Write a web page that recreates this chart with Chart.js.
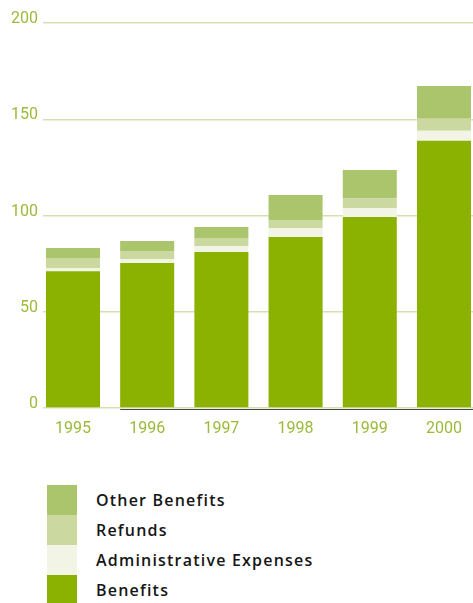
<!DOCTYPE html>
<html>
<head>
<meta charset="utf-8">
<script src="https://cdn.jsdelivr.net/npm/chart.js@4.4.1/dist/chart.umd.min.js"></script>
<style>
  html, body { margin: 0; padding: 0; background: #ffffff; overflow: hidden; }
  #wrap { position: relative; width: 473px; height: 603px; }
  #box { position: absolute; left: 0; top: 0; width: 473px; height: 445px; }
  #legend { position: absolute; left: 47px; top: 485px; margin: 0; padding: 0; list-style: none; }
  #legend li { display: flex; align-items: center; height: 30px; margin: 0; padding: 0; }
  #legend .sw { width: 30px; height: 30px; flex: none; }
  #legend .tx { margin-left: 19px; font-family: "Open Sans", sans-serif; font-weight: 600; font-size: 16px; letter-spacing: 1.2px; color: #161616; }
</style>
</head>
<body>
<div id="wrap">
  <div id="box"><canvas id="c"></canvas></div>
  <ul id="legend"></ul>
</div>
<script>
const years = [1995, 1996, 1997, 1998, 1999, 2000];
const benefits = [71.1, 75.3, 81.0, 88.8, 99.2, 138.8];
const adminExpenses = [1.6, 2.1, 3.1, 4.7, 4.6, 5.2];
const refunds = [5.2, 4.1, 4.2, 4.1, 5.2, 6.2];
const otherBenefits = [5.2, 5.2, 5.7, 13.0, 14.6, 17.1];
const yTicks = [0, 50, 100, 150, 200];

const seriesNames = ["Benefits", "Administrative Expenses", "Refunds", "Other Benefits"];
const seriesColors = ["#8bb200", "#f2f4e6", "#cbd8a0", "#abc56c"];
const seriesValues = [benefits, adminExpenses, refunds, otherBenefits];

const datasets = seriesValues.map((vals, i) => ({
  label: seriesNames[i],
  data: years.map((yr, j) => ({ x: yr, y: vals[j] })),
  backgroundColor: seriesColors[i],
  borderWidth: 0,
  categoryPercentage: 1,
  barPercentage: 0.728
}));

const tickColor = "#9cba3a";
const gridColor = "#d5e0b1";

const baseline = {
  id: "baseline",
  afterDatasetsDraw(chart) {
    const meta = chart.getDatasetMeta(0);
    const bar = meta.data[1];
    if (!bar) return;
    const ctx = chart.ctx;
    const y0 = chart.scales.y.getPixelForValue(0);
    const x0 = bar.x - bar.width / 2;
    ctx.save();
    ctx.strokeStyle = "#45453a";
    ctx.lineWidth = 1.2;
    ctx.beginPath();
    ctx.moveTo(x0, y0 + 1.5);
    ctx.lineTo(chart.chartArea.right, y0 + 1.5);
    ctx.stroke();
    ctx.restore();
  }
};

new Chart(document.getElementById("c"), {
  type: "bar",
  data: { datasets },
  plugins: [baseline],
  options: {
    responsive: true,
    maintainAspectRatio: false,
    animation: false,
    layout: { padding: { top: 23, right: 0, left: 0, bottom: 0 } },
    plugins: { legend: { display: false }, tooltip: { enabled: false } },
    scales: {
      x: {
        type: "linear",
        stacked: true,
        offset: false,
        min: 1994.596,
        max: 2000.391,
        grid: { display: false, drawTicks: false, offset: false },
        border: { display: false },
        afterFit(s) { s.height = 37; },
        afterBuildTicks(s) { s.ticks = years.map(v => ({ value: v })); },
        ticks: {
          stepSize: 1,
          includeBounds: false,
          padding: 11,
          color: tickColor,
          font: { family: "Roboto", size: 16 },
          maxRotation: 0,
          callback: v => String(v)
        }
      },
      y: {
        stacked: true,
        min: 0,
        max: 200,
        grid: { color: gridColor, lineWidth: 1.5, drawTicks: false },
        border: { display: false },
        afterFit(s) { s.width = 43; },
        afterBuildTicks(s) { s.ticks = yTicks.map(v => ({ value: v })); },
        ticks: {
          padding: 5,
          labelOffset: -4,
          color: tickColor,
          font: { family: "Roboto", size: 16 },
          callback: v => String(v)
        }
      }
    }
  }
});

const legend = document.getElementById("legend");
datasets.slice().reverse().forEach(ds => {
  const li = document.createElement("li");
  const sw = document.createElement("span");
  sw.className = "sw";
  sw.style.background = ds.backgroundColor;
  const tx = document.createElement("span");
  tx.className = "tx";
  tx.textContent = ds.label;
  li.appendChild(sw);
  li.appendChild(tx);
  legend.appendChild(li);
});
</script>
</body>
</html>
